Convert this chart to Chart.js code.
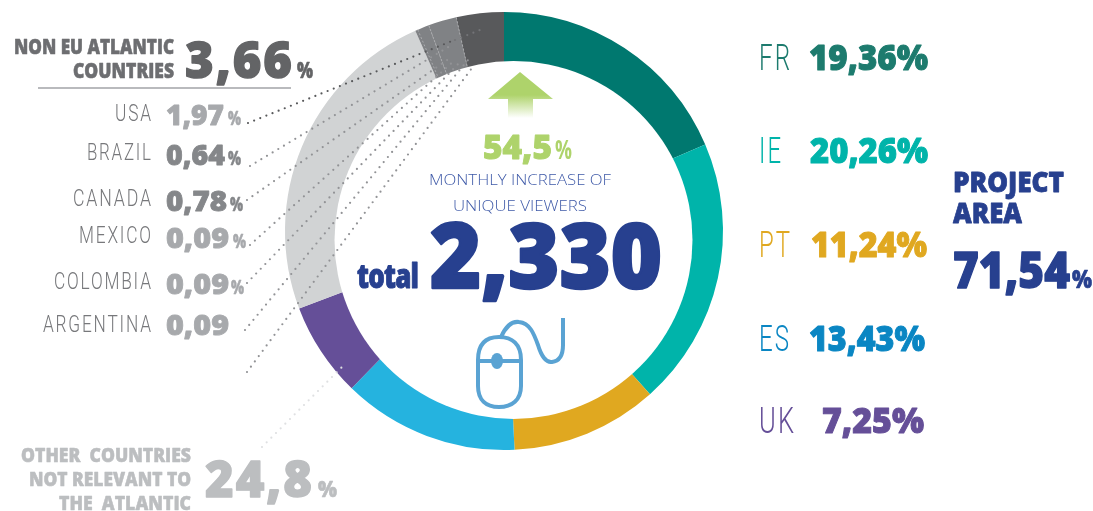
<!DOCTYPE html>
<html>
<head>
<meta charset="utf-8">
<title>Unique viewers</title>
<script src="https://cdn.jsdelivr.net/npm/chart.js@4/dist/chart.umd.min.js"></script>
<style>
  html, body { margin: 0; padding: 0; background: #fff; }
  canvas { display: block; }
</style>
</head>
<body>
<canvas id="ring" width="1093" height="511"></canvas>
<script>
// ring shares are measured off the drawn arcs, the printed figures do not add up to them
const sliceNames = ['FR', 'IE', 'PT', 'ES', 'UK', 'Other countries', 'Non EU small', 'Non EU mid', 'USA'];
const sliceShares = [18.53, 19.83, 10.84, 13.0, 7.0, 24.1, 1.05, 2.08, 3.5];
const sliceColors = ['#00786f', '#00b4aa', '#e0a820', '#25b3df', '#654f98', '#d1d3d4', '#808285', '#808285', '#58595b'];

const projectCodes = ['FR', 'IE', 'PT', 'ES', 'UK'];
const projectValues = ['19,36%', '20,26%', '11,24%', '13,43%', '7,25%'];
const projectColors = ['#1d7b6e', '#00b4aa', '#e0a820', '#0a86c3', '#654f98'];

const atlanticNames = ['USA', 'BRAZIL', 'CANADA', 'MEXICO', 'COLOMBIA', 'ARGENTINA'];
const atlanticValues = ['1,97', '0,64', '0,78', '0,09', '0,09', '0,09'];
const atlanticColors = ['#a7a9ac', '#85878a', '#85878a', '#a7a9ac', '#a7a9ac', '#a7a9ac'];

const HEAVY = '"Open Sans"';
const THIN = 'Roboto';

function put(ctx, text, x, y, size, weight, family, color, align, width, spacing) {
  ctx.save();
  ctx.font = weight + ' ' + size + 'px ' + family;
  ctx.letterSpacing = (spacing || 0) + 'px';
  ctx.fillStyle = color;
  ctx.strokeStyle = color;
  ctx.textBaseline = 'alphabetic';
  ctx.textAlign = 'left';
  // measureText counts the spacing after the last letter too
  const natural = ctx.measureText(text).width - (spacing || 0);
  const w = width || natural;
  ctx.translate(align === 'right' ? x - w : align === 'center' ? x - w / 2 : x, y);
  ctx.scale(w / natural, 1);
  ctx.fillText(text, 0, 0);
  if (weight >= 800) {
    // the original face is blacker than anything installed
    ctx.lineWidth = size * 0.028;
    ctx.lineJoin = 'round';
    ctx.strokeText(text, 0, 0);
  }
  ctx.restore();
}

function dots(ctx, x1, y1, x2, y2, color) {
  ctx.save();
  ctx.strokeStyle = color;
  ctx.lineWidth = 2.2;
  ctx.lineCap = 'round';
  ctx.setLineDash([0, 6.6]);
  ctx.beginPath();
  ctx.moveTo(x1, y1);
  ctx.lineTo(x2, y2);
  ctx.stroke();
  ctx.restore();
}

const ringExtras = {
  id: 'ringExtras',
  afterDatasetsDraw(chart) {
    const ctx = chart.ctx;
    const arcs = chart.getDatasetMeta(0).data;

    // dashed dividers inside the non EU part
    [arcs[5].endAngle + 0.012, arcs[6].endAngle, arcs[7].endAngle].forEach(ang => {
      const a = arcs[0];
      const r = a.outerRadius;
      ctx.save();
      ctx.strokeStyle = '#a9aaad';
      ctx.lineWidth = 1;
      ctx.setLineDash([2, 2]);
      ctx.beginPath();
      ctx.moveTo(a.x + Math.cos(ang) * r, a.y + Math.sin(ang) * r);
      ctx.lineTo(a.x + Math.cos(ang) * (r - 60), a.y + Math.sin(ang) * (r - 60));
      ctx.stroke();
      ctx.restore();
    });

    // the hole sits off centre, the ring is fatter on the upper left
    ctx.save();
    ctx.fillStyle = '#fff';
    ctx.beginPath();
    ctx.arc(arcs[0].x + 9.5, arcs[0].y + 9, 179, 0, Math.PI * 2);
    ctx.fill();
    ctx.restore();
  },
  afterDraw(chart) {
    const ctx = chart.ctx;

    // leader lines
    dots(ctx, 248, 123, 452, 41, '#58595b');
    dots(ctx, 455, 40, 485, 28, '#737477');
    dots(ctx, 250, 166, 450, 46, '#929396');
    dots(ctx, 247, 200, 450, 58, '#929396');
    dots(ctx, 250, 245, 455, 60, '#929396');
    dots(ctx, 247, 283, 460, 62, '#929396');
    dots(ctx, 245, 330, 468, 60, '#929396');
    dots(ctx, 247, 372, 472, 68, '#929396');
    dots(ctx, 262, 447, 344, 365, '#dfe0e2');

    // left block
    put(ctx, 'NON EU ATLANTIC', 174, 54, 21, 800, HEAVY, '#6d6e71', 'right', 160);
    put(ctx, 'COUNTRIES', 174, 78, 21, 800, HEAVY, '#6d6e71', 'right', 101);
    put(ctx, '3,66', 185, 78, 50, 800, HEAVY, '#636466', 'left', 107, 2);
    put(ctx, '%', 297, 78, 23, 800, HEAVY, '#636466', 'left', 16);
    ctx.fillStyle = '#b9babd';
    ctx.fillRect(38, 87, 253, 2);

    const nameBase = [121, 160, 206, 243, 289, 332];
    const nameWide = [36, 64, 78, 72, 97, 108];
    const valBase = [125, 165, 211, 248, 294, 335];
    const valWide = [58, 59, 61, 63, 63, 63];
    const pctX = [228, 228, 230, 233, 231];
    atlanticNames.forEach((n, i) => {
      put(ctx, n, 151, nameBase[i], 24, 300, THIN, '#77787b', 'right', nameWide[i], 2.5);
      put(ctx, atlanticValues[i], 166, valBase[i], 28, 800, HEAVY, atlanticColors[i], 'left', valWide[i]);
      if (i < 5) put(ctx, '%', pctX[i], valBase[i], 20, 800, HEAVY, atlanticColors[i], 'left', 13);
    });

    ['OTHER  COUNTRIES', 'NOT RELEVANT TO', 'THE  ATLANTIC'].forEach((t, i) => {
      put(ctx, t, 191, [462, 486, 510][i], 20, 800, HEAVY, '#bcbec0', 'right', [170, 162, 132][i]);
    });
    put(ctx, '24,8', 205, 497, 50, 800, HEAVY, '#bcbec0', 'left', 107, 2);
    put(ctx, '%', 318, 497, 23, 800, HEAVY, '#bcbec0', 'left', 19);

    // right block
    const codeBase = [70, 163, 257, 351, 433];
    const codeWide = [31, 22, 31, 30, 35];
    const valLeft = [809, 810, 811, 809, 822];
    const valRight = [928, 928, 927, 925, 924];
    projectCodes.forEach((c, i) => {
      put(ctx, c, 759, codeBase[i], 36, 300, THIN, projectColors[i], 'left', codeWide[i], 3);
      put(ctx, projectValues[i], valLeft[i], codeBase[i], 36, 800, HEAVY, projectColors[i], 'left', valRight[i] - valLeft[i]);
    });
    put(ctx, 'PROJECT', 953, 192, 28, 800, HEAVY, '#27408f', 'left', 111);
    put(ctx, 'AREA', 953, 223, 28, 800, HEAVY, '#27408f', 'left', 69);
    put(ctx, '71,54', 953, 288, 50, 800, HEAVY, '#27408f', 'left', 117);
    put(ctx, '%', 1072, 288, 25, 800, HEAVY, '#27408f', 'left', 20);

    // centre
    const arrow = ctx.createLinearGradient(0, 95, 0, 118);
    arrow.addColorStop(0, '#aed36b');
    arrow.addColorStop(1, '#ffffff');
    ctx.fillStyle = arrow;
    ctx.fill(new Path2D('M520 72 L553 99 L533 99 L533 118 L508 118 L508 99 L488 99 Z'));

    put(ctx, '54,5', 483, 159, 34, 800, HEAVY, '#aed36b', 'left', 69);
    put(ctx, '%', 555, 159, 26, 700, HEAVY, '#aed36b', 'left', 17);
    put(ctx, 'MONTHLY INCREASE OF', 429, 185, 15, 300, HEAVY, '#3f5aa8', 'left', 182);
    put(ctx, 'UNIQUE VIEWERS', 453, 211, 15, 300, HEAVY, '#3f5aa8', 'left', 134);
    put(ctx, 'total', 357, 288, 34, 800, HEAVY, '#27408f', 'left', 62, -1);
    put(ctx, '2,330', 430, 288, 91, 800, HEAVY, '#27408f', 'left', 232);

    // mouse icon
    ctx.save();
    ctx.strokeStyle = '#5aa3d3';
    ctx.fillStyle = '#5aa3d3';
    ctx.lineWidth = 4;
    ctx.stroke(new Path2D('M478 360 C478 344 486 337 499 337 C512 337 521 344 521 360 L521 386 C521 400 512 407 499 407 C486 407 478 400 478 386 Z'));
    ctx.stroke(new Path2D('M478 361 L521 361'));
    ctx.stroke(new Path2D('M501 337 C506 326 512 321 519 322 C530 323 534 334 538 345 C541 355 546 363 552 362 C560 361 563 354 563 345 L563 318'));
    ctx.beginPath();
    ctx.ellipse(497, 361, 6, 8, 0, 0, Math.PI * 2);
    ctx.fill();
    ctx.restore();
  }
};

new Chart(document.getElementById('ring').getContext('2d'), {
  type: 'doughnut',
  data: {
    labels: sliceNames,
    datasets: [{
      data: sliceShares,
      backgroundColor: sliceColors,
      borderWidth: 0
    }]
  },
  options: {
    responsive: false,
    animation: false,
    cutout: '70%',
    layout: { padding: { left: 285, right: 370, top: 12, bottom: 61 } },
    plugins: {
      legend: { display: false },
      tooltip: { enabled: false }
    }
  },
  plugins: [ringExtras]
});
</script>
</body>
</html>
